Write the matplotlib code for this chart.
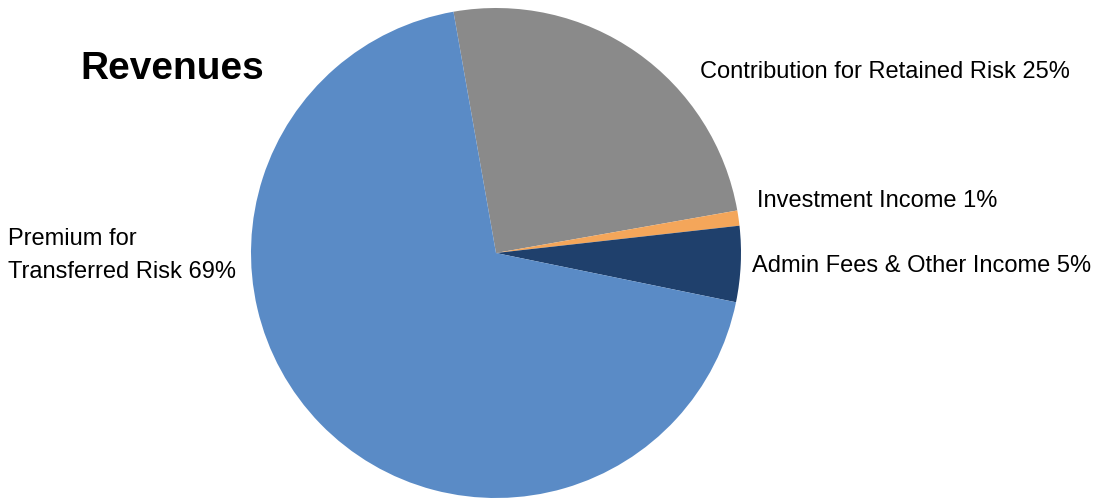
import matplotlib.pyplot as plt

# Revenue breakdown
labels = ['Contribution for Retained Risk', 'Investment Income',
          'Admin Fees & Other Income', 'Premium for\nTransferred Risk']
shares = [25, 1, 5, 69]
colors = ['#8a8a8a', '#f4a65a', '#1f406c', '#5a8bc6']

W, H = 1099, 503
fig = plt.figure(figsize=(W / 100, H / 100), dpi=100)
fam = ['Liberation Sans', 'DejaVu Sans']

# pie centre / radius in pixels
cx, cy, r = 496, 253, 245
ax = fig.add_axes([(cx - r) / W, (H - cy - r) / H, 2 * r / W, 2 * r / H])
ax.pie(shares, colors=colors, startangle=100, counterclock=False,
       radius=1, wedgeprops=dict(linewidth=0))
ax.set_xlim(-1, 1)
ax.set_ylim(-1, 1)
ax.set_aspect('equal')
ax.axis('off')


def px_text(x, y, s, **kw):
    # x, y are pixels from the top-left; y is the baseline
    fig.text(x / W, 1 - y / H, s, va='baseline', ha='left', family=fam, **kw)


px_text(80, 79, 'Revenues', fontsize=28, fontweight='bold')

# slice labels
pos = [(700, 78), (757, 207), (752, 272), (8, 245)]
for (x, y), lab, v in zip(pos, labels, shares):
    if '\n' in lab:
        first, second = lab.split('\n')
        px_text(x, y, first, fontsize=17)
        px_text(x, y + 33, f'{second} {v}%', fontsize=17)
    else:
        px_text(x, y, f'{lab} {v}%', fontsize=17)

fig.savefig('out.png', dpi=100)
